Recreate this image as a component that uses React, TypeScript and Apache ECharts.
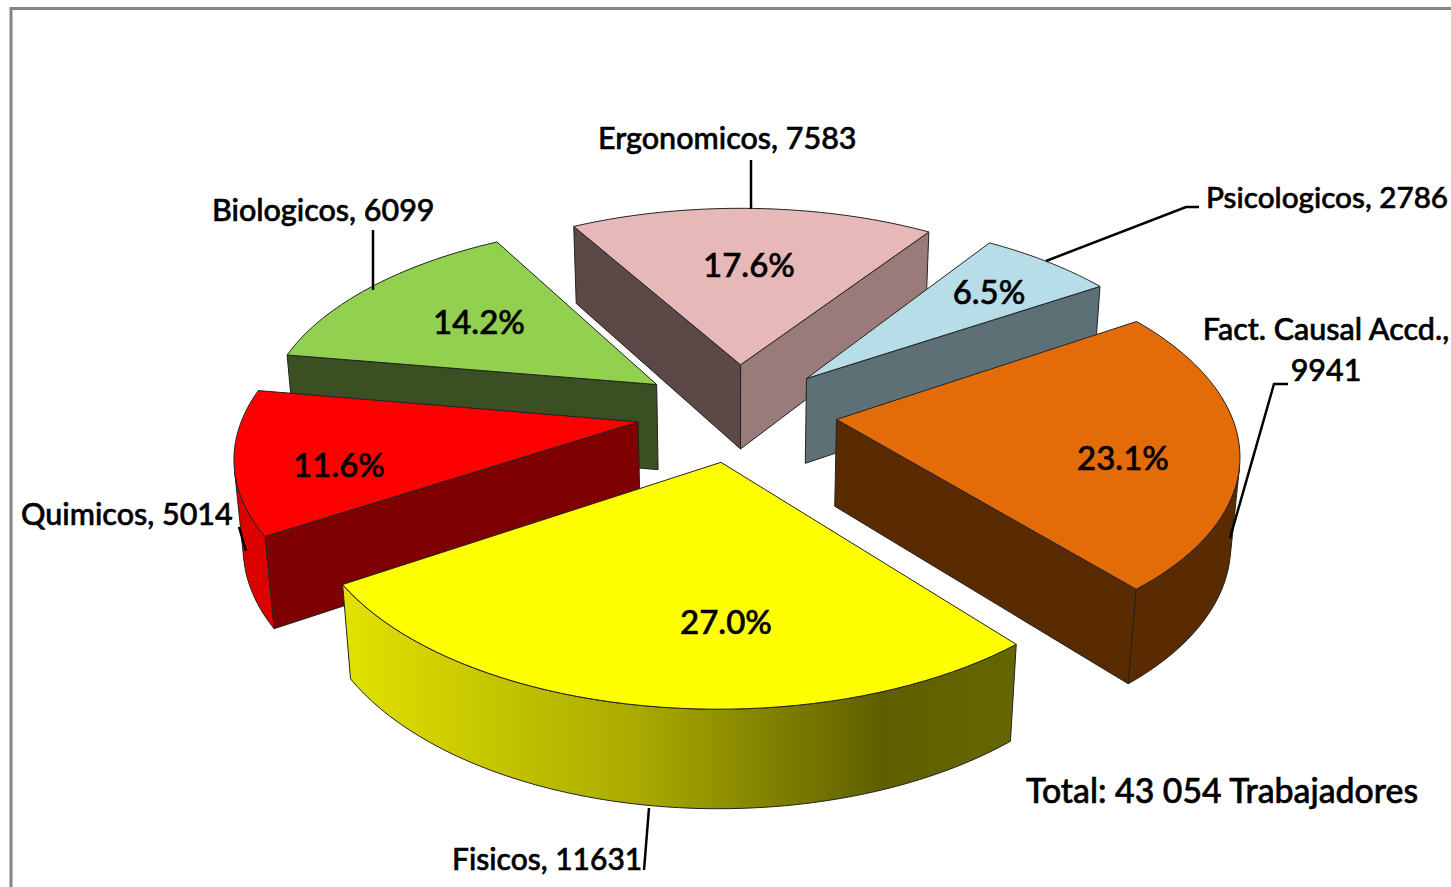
import React, { useEffect, useRef } from "react";
import * as echarts from "echarts";

const categories = ["Fisicos", "Fact. Causal Accd.", "Psicologicos", "Ergonomicos", "Biologicos", "Quimicos"];
const values = [11631, 9941, 2786, 7583, 6099, 5014];
const topColors = ["#ffff00", "#e36c09", "#b7dde8", "#e6b9b8", "#92d050", "#ff0000"];
const startWallColors = ["#666600", "#5a2a00", "#5c7076", "#9b7b79", "#3b5022", "#7f0000"];
const endWallColors = ["#666600", "#5a2a00", "#5c7076", "#5c4847", "#3b5022", "#7f0000"];
const drawOrder = [4, 3, 2, 1, 5, 0];
const nameLabels = ["Fisicos, 11631", "Fact. Causal Accd.,\n9941", "Psicologicos, 2786", "Ergonomicos, 7583", "Biologicos, 6099", "Quimicos, 5014"];
const totalLabel = "Total: 43 054 Trabajadores";

const FONT = "Lato, Carlito, sans-serif";
const total = values.reduce((a, b) => a + b, 0);
const START = -57.5;
const CX = 737, CY = 412, R = 394, K = 193, D = 88;
const EXPLODE = 0.254, PERSP = 0.15, PERSP_Z = 0.018;

const rad = (d: number) => (d * Math.PI) / 180;
const project = (x: number, y: number, z: number) => {
  const w = 1 / (1 - PERSP * y + PERSP_Z * z);
  return [CX + R * x * w, CY + K * y * w + D * z * w];
};

const ranges = values.reduce((acc: number[][], v, i) => {
  const a = i === 0 ? START : acc[i - 1][1];
  acc.push([a, a + (v / total) * 360]);
  return acc;
}, []);

const area = (p: number[][]) => {
  let s = 0;
  p.forEach((q, i) => {
    const n = p[(i + 1) % p.length];
    s += q[0] * n[1] - n[0] * q[1];
  });
  return s / 2;
};

function renderItem(params: any) {
  const idx = drawOrder[params.dataIndex];
  const [a, b] = ranges[idx];
  const mid = rad((a + b) / 2);
  const ax = EXPLODE * Math.sin(mid), ay = EXPLODE * Math.cos(mid);
  const world = (t: number) => [ax + Math.sin(rad(t)), ay + Math.cos(rad(t))];
  const n = 48;
  const ts = Array.from({ length: n + 1 }, (_, i) => a + ((b - a) * i) / n);
  const top = (t: number) => { const w = world(t); return project(w[0], w[1], 0); };
  const bot = (t: number) => { const w = world(t); return project(w[0], w[1], 1); };
  const apexT = project(ax, ay, 0), apexB = project(ax, ay, 1);
  const line = { stroke: "#222222", lineWidth: 1 };
  const children: any[] = [];

  const wallA = [apexT, top(a), bot(a), apexB];
  const wallB = [top(b), apexT, apexB, bot(b)];
  if (area(wallA) > 0) children.push({ type: "polygon", shape: { points: wallA }, style: { fill: startWallColors[idx], ...line } });
  if (area(wallB) > 0) children.push({ type: "polygon", shape: { points: wallB }, style: { fill: endWallColors[idx], ...line } });

  const front: number[] = [];
  for (let i = 0; i < n; i++) {
    const q = [top(ts[i]), top(ts[i + 1]), bot(ts[i + 1]), bot(ts[i])];
    if (area(q) > 0) { if (!front.includes(ts[i])) front.push(ts[i]); front.push(ts[i + 1]); }
  }
  if (front.length > 1) {
    const pts = [...front.map(top), ...front.slice().reverse().map(bot)];
    let fill: any = idx === 5 ? "#dd0000" : idx === 1 ? "#5a2a00" : "#888800";
    if (idx === 0) {
      fill = new echarts.graphic.LinearGradient(0, 0, 1, 0, [
        { offset: 0, color: "#e2e200" },
        { offset: 0.45, color: "#a8a800" },
        { offset: 0.8, color: "#5f5f00" },
        { offset: 1, color: "#666600" },
      ]);
    }
    children.push({ type: "polygon", shape: { points: pts }, style: { fill, ...line } });
  }
  children.push({
    type: "polygon",
    shape: { points: [apexT, ...ts.map(top)] },
    style: { fill: topColors[idx], ...line },
  });
  return { type: "group", children };
}

const pctPositions = [[726, 621], [1123, 457], [989, 291], [749, 264], [479, 321], [339, 464]];
const namePositions = [[452, 858, "left", 30], [1326, 348, "center", 30.5], [1206, 196, "left", 29.7], [598, 137, "left", 30.5], [212, 209, "left", 30.5], [21, 513, "left", 30.5]];
const leaders = [
  [[649, 808], [644, 870]],
  [[1288, 384], [1274, 384], [1230, 538]],
  [[1046, 261], [1186, 207], [1199, 207]],
  [[751, 160], [751, 209]],
  [[373, 230], [373, 290]],
  [[239, 527], [246, 551]],
];

const textStyle = (size: number) => ({ fontFamily: FONT, fontSize: size, fontWeight: 500, fill: "#000000", stroke: "#000000", lineWidth: 0.6, lineHeight: 41 });

export default function App() {
  const ref = useRef<HTMLDivElement>(null);
  useEffect(() => {
    const chart = echarts.init(ref.current!, undefined, { renderer: "svg" });
    chart.setOption({
      animation: false,
      backgroundColor: "#ffffff",
      graphic: [
        { type: "rect", shape: { x: 11, y: 8.5, width: 1500, height: 950 }, style: { fill: "#ffffff", stroke: "#858585", lineWidth: 3 }, z: -10 },
        ...leaders.map((points) => ({
          type: "polyline", shape: { points }, style: { stroke: "#000000", lineWidth: 2.5, fill: "none" }, z: 20,
        })),
        ...values.map((v, i) => ({
          type: "text", x: pctPositions[i][0], y: pctPositions[i][1], z: 30,
          style: { ...textStyle(33), text: `${((v / total) * 100).toFixed(1)}%`, textAlign: "center", textVerticalAlign: "middle" },
        })),
        ...nameLabels.map((text, i) => ({
          type: "text", x: namePositions[i][0], y: namePositions[i][1], z: 30,
          style: { ...textStyle(namePositions[i][3] as number), text, textAlign: namePositions[i][2], textVerticalAlign: "middle" },
        })),
        { type: "text", x: 1026, y: 790, z: 30, style: { ...textStyle(33.8), text: totalLabel, textAlign: "left", textVerticalAlign: "middle" } },
      ],
      series: [{
        type: "custom",
        coordinateSystem: "none",
        silent: true,
        clip: false,
        renderItem,
        data: drawOrder.map((i) => ({ name: categories[i], value: values[i] })),
      }],
    });
    return () => chart.dispose();
  }, []);
  return <div ref={ref} style={{ position: "fixed", left: 0, top: 0, width: 1451, height: 887 }} />;
}
